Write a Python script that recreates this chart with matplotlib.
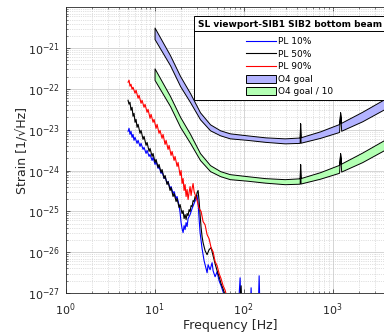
import numpy as np
import matplotlib
matplotlib.use("Agg")
import matplotlib.pyplot as plt
from matplotlib.patches import Patch
from matplotlib.lines import Line2D
from matplotlib.ticker import LogLocator, NullFormatter

# ---------------- data (frequency in Hz, strain as log10 value) ----------------
pl10_freq = [5.04, 5.17, 5.30, 5.44, 5.59, 5.73, 5.88, 6.04, 6.36, 6.53,
             6.87, 7.05, 7.43, 7.62, 8.03, 8.24, 8.68, 8.90, 9.38, 9.62,
             10.13, 10.40, 10.95, 11.23, 11.83, 12.14, 12.79, 13.12, 13.82, 14.18,
             14.94, 15.33, 16.14, 16.57, 17.45, 17.90, 18.85, 19.35, 19.86, 20.37,
             20.91, 21.46, 22.02, 22.60, 23.19, 23.79, 25.06, 26.39, 27.79, 29.27,
             30.03, 30.82, 31.62, 32.45, 34.18, 35.99, 37.91, 38.90, 39.92, 42.04,
             44.27, 45.43, 47.84, 50.38, 53.04, 55.86, 58.83, 61.95, 66.96, 86.7,
             91.36, 93.76, 118.3, 121.4, 124.6, 145.5, 149.4, 153.2]
pl10_log = [-23.039, -22.965, -23.113, -23.039, -23.187, -23.113, -23.260, -23.187, -23.334, -23.260,
            -23.408, -23.334, -23.482, -23.432, -23.580, -23.506, -23.654, -23.604, -23.752, -23.678,
            -23.850, -23.776, -23.948, -23.899, -24.071, -24.022, -24.194, -24.145, -24.317, -24.268,
            -24.440, -24.391, -24.563, -24.514, -24.686, -24.636, -24.858, -25.030, -25.275, -25.423,
            -25.521, -25.349, -25.447, -25.275, -25.373, -25.177, -25.079, -24.931, -24.808, -24.686,
            -24.612, -24.808, -25.177, -25.521, -25.914, -26.209, -26.405, -26.504, -26.307, -26.430,
            -26.258, -26.455, -26.602, -26.479, -26.700, -26.823, -26.971, -27.118, -27.389, -27.486,
            -26.627, -27.486, -27.536, -26.872, -27.536, -27.536, -26.578, -27.536]

pl50_freq = [5.04, 5.17, 5.30, 5.44, 5.59, 5.73, 5.88, 6.04, 6.20, 6.36,
             6.53, 6.87, 7.05, 7.43, 7.62, 8.03, 8.24, 8.68, 8.90, 9.38,
             9.62, 10.13, 10.40, 10.95, 11.23, 11.83, 12.14, 12.79, 13.12, 13.82,
             14.18, 14.94, 15.33, 16.14, 16.57, 17.45, 17.90, 18.85, 19.35, 20.37,
             20.91, 21.46, 22.02, 22.60, 23.19, 23.79, 24.42, 25.06, 25.71, 26.39,
             27.08, 27.79, 28.52, 29.27, 30.03, 30.82, 31.62, 32.45, 33.31, 34.18,
             35.07, 36.94, 38.90, 40.96, 43.14, 45.43, 47.84, 50.38, 53.04, 55.86,
             58.83, 61.95, 66.96, 80.27, 86.7, 93.76, 96.2, 118.0]
pl50_log = [-22.278, -22.376, -22.327, -22.523, -22.450, -22.671, -22.597, -22.818, -22.745, -22.941,
            -22.867, -23.088, -23.015, -23.236, -23.162, -23.383, -23.310, -23.531, -23.457, -23.654,
            -23.580, -23.801, -23.727, -23.924, -23.850, -24.047, -23.973, -24.194, -24.120, -24.342,
            -24.268, -24.489, -24.415, -24.636, -24.563, -24.759, -24.685, -24.907, -24.833, -25.054,
            -24.980, -25.177, -25.078, -25.201, -25.054, -25.103, -24.956, -25.005, -24.858, -24.882,
            -24.735, -24.759, -24.636, -24.686, -24.538, -24.489, -24.735, -25.079, -25.398, -25.619,
            -25.767, -25.963, -26.061, -25.939, -25.889, -26.086, -26.283, -26.455, -26.602, -26.774,
            -26.897, -27.069, -27.315, -27.437, -27.486, -26.823, -27.486, -27.560]

pl90_freq = [5.04, 5.17, 5.30, 5.44, 5.59, 5.73, 6.04, 6.20, 6.53, 6.70,
             7.05, 7.24, 7.62, 7.82, 8.24, 8.45, 8.90, 9.14, 9.62, 9.87,
             10.40, 10.67, 11.23, 11.53, 12.14, 12.46, 13.12, 13.47, 14.18, 14.56,
             15.33, 15.73, 16.57, 17.00, 17.90, 18.37, 19.35, 19.86, 20.37, 20.91,
             21.46, 22.02, 22.60, 23.19, 23.79, 24.42, 25.06, 25.71, 26.39, 27.08,
             27.79, 28.52, 30.03, 31.62, 33.31, 35.07, 36.94, 38.90, 40.96, 43.14,
             45.43, 47.84, 50.38, 53.04, 55.86, 58.83, 61.95, 65.25, 70.52]
pl90_log = [-21.835, -21.786, -21.934, -21.885, -22.007, -21.958, -22.106, -22.032, -22.228, -22.155,
            -22.351, -22.278, -22.450, -22.376, -22.573, -22.499, -22.720, -22.622, -22.818, -22.745,
            -22.966, -22.867, -23.088, -23.015, -23.211, -23.113, -23.359, -23.260, -23.482, -23.383,
            -23.629, -23.531, -23.752, -23.654, -23.899, -23.801, -24.120, -23.998, -24.317, -24.194,
            -24.489, -24.342, -24.636, -24.464, -24.710, -24.538, -24.391, -24.612, -24.440, -24.317,
            -24.514, -24.587, -24.735, -24.930, -25.000, -25.250, -25.330, -25.570, -25.670, -25.890,
            -25.990, -26.230, -26.330, -26.520, -26.650, -26.820, -26.930, -27.120, -27.320]

# O4 goal band (upper / lower edge, log10 strain)
goal_freq = [10, 14.9, 19.4, 25.1, 32.4, 42, 54.5, 70, 109, 175,
             290, 426, 431, 436, 724, 1180, 1213, 1246, 2145, 3785, 6000]
goal_upper_log = [-20.496, -21.172, -21.688, -22.106, -22.573, -22.867, -23.014, -23.088, -23.137, -23.186,
                  -23.211, -23.190, -22.843, -23.185, -23.039, -22.860, -22.573, -22.830, -22.560, -22.253, -21.980]
goal_lower_log = [-20.779, -21.418, -21.934, -22.327, -22.744, -23.014, -23.137, -23.211, -23.248, -23.297,
                  -23.334, -23.322, -22.843, -23.318, -23.199, -23.055, -22.573, -23.025, -22.794, -22.499, -22.250]

labels = ["PL 10%", "PL 50%", "PL 90%", "O4 goal", "O4 goal / 10"]
legend_title = "SL viewport-SIB1 SIB2 bottom beam"
line_colors = ["#0000ff", "#000000", "#ff0000"]
band_colors = [(0.7, 0.7, 1.0), (0.7, 1.0, 0.7)]

# ---------------- figure ----------------
plt.rcParams["font.family"] = ["DejaVu Sans"]
W, H = 384, 332
fig = plt.figure(figsize=(W / 100, H / 100), dpi=100)
ax_left, ax_right, ax_top, ax_bot = 65.5, 395.0, 7.3, 293.0
ax = fig.add_axes([ax_left / W, 1 - ax_bot / H, (ax_right - ax_left) / W, (ax_bot - ax_top) / H])
ax.set_xscale("log")
ax.set_yscale("log")

up = 10 ** np.array(goal_upper_log)
lo = 10 ** np.array(goal_lower_log)
gf = np.array(goal_freq)
ax.fill_between(gf, lo, up, facecolor=band_colors[0], edgecolor="black", linewidth=0.7, zorder=3)
ax.fill_between(gf, lo / 10, up / 10, facecolor=band_colors[1], edgecolor="black", linewidth=0.7, zorder=3)

series = [(pl10_freq, pl10_log), (pl50_freq, pl50_log), (pl90_freq, pl90_log)]
for (fr, lg), c in zip(series, line_colors):
    ax.plot(fr, 10 ** np.array(lg), color=c, linewidth=0.8, zorder=4)

ax.set_xlim(1, 10 ** 3.7)
ax.set_ylim(1e-27, 1e-20)
ax.set_xticks([1, 10, 100, 1000])
ax.set_yticks([10.0 ** k for k in range(-27, -20)])
ax.xaxis.set_minor_locator(LogLocator(base=10, subs=np.arange(2, 10), numticks=20))
ax.yaxis.set_minor_locator(LogLocator(base=10, subs=np.arange(2, 10), numticks=30))
ax.xaxis.set_minor_formatter(NullFormatter())
ax.yaxis.set_minor_formatter(NullFormatter())
ax.tick_params(which="both", direction="in", top=True, right=True, labelsize=8, colors="#262626")
ax.tick_params(axis="y", which="major", pad=4)
ax.tick_params(axis="x", which="major", pad=6)
ax.tick_params(which="major", length=3, width=0.5)
ax.tick_params(which="minor", length=1.5, width=0.4)
ax.grid(which="major", color="#cfcfcf", linewidth=0.6, linestyle="-", zorder=0)
ax.grid(which="minor", color="#c4c4c4", linewidth=0.5, linestyle=":", zorder=0)
ax.set_axisbelow(True)
for s in ax.spines.values():
    s.set_linewidth(0.6)
    s.set_color("#262626")

ax_w, ax_h = ax_right - ax_left, ax_bot - ax_top
ax.set_xlabel("Frequency [Hz]", fontsize=9, color="#262626")
ax.set_ylabel("Strain [1/\u221aHz]", fontsize=9, color="#262626")
ax.xaxis.set_label_coords(0.5, -(319 - ax_bot) / ax_h)
ax.yaxis.set_label_coords(-(ax_left - 29) / ax_w, 0.5)

handles = [Line2D([], [], color=c, linewidth=0.8) for c in line_colors]
handles += [Patch(facecolor=bc, edgecolor="black", linewidth=0.7) for bc in band_colors]
leg = ax.legend(handles, labels, title=legend_title, loc="upper right",
                bbox_to_anchor=(386 / W, 1 - 16 / H), bbox_transform=fig.transFigure,
                borderaxespad=0, fontsize=6.5, title_fontsize=6.5, frameon=True,
                fancybox=False, framealpha=1, edgecolor="black", handlelength=3.3,
                handleheight=1.0, handletextpad=0.25, labelspacing=0.37, borderpad=0.45)
leg.get_title().set_fontweight("bold")
leg.get_frame().set_linewidth(0.7)
leg.set_zorder(10)
leg._legend_box.sep = 5.8

fig.canvas.draw()
r = fig.canvas.get_renderer()
tb = leg.get_title().get_window_extent(r)
fb = leg.get_frame().get_window_extent(r)
ysep = tb.y0 - 2
inv = fig.transFigure.inverted()
(x0f, yf), (x1f, _) = inv.transform([(fb.x0, ysep), (fb.x1, ysep)])
fig.add_artist(Line2D([x0f, x1f], [yf, yf], color="black", linewidth=0.7, zorder=11))

fig.savefig("out.png", dpi=100)
